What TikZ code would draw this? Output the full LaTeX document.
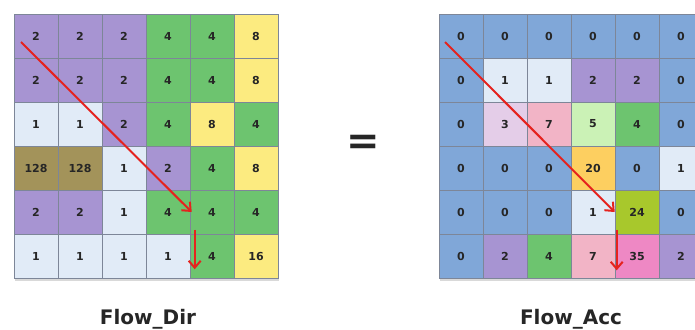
\documentclass[tikz,border=0pt]{standalone}
\usepackage{fontspec}
\setmainfont{DejaVu Sans}
\usetikzlibrary{calc,shadows,arrows.meta}

\definecolor{pu}{HTML}{A794D2}
\definecolor{gr}{HTML}{6DC46F}
\definecolor{ye}{HTML}{FCEB80}
\definecolor{wh}{HTML}{E1EBF7}
\definecolor{ol}{HTML}{A3935A}
\definecolor{bl}{HTML}{80A7D8}
\definecolor{li}{HTML}{E4CDE8}
\definecolor{pk}{HTML}{F2B4C6}
\definecolor{mi}{HTML}{CBF2B6}
\definecolor{or}{HTML}{FDCF60}
\definecolor{lm}{HTML}{A8C82C}
\definecolor{ro}{HTML}{EE88C4}
\definecolor{gridline}{HTML}{7D8698}
\definecolor{arrowred}{HTML}{E5221E}

\tikzset{
  cell/.style={draw=gridline, line width=0.6pt, minimum size=44pt, inner sep=0pt,
    font=\fontsize{11}{11}\selectfont\bfseries, text=black!85},
  flow/.style={draw=arrowred, line width=2pt, -{Straight Barb[length=7pt,width=12pt]}},
  caption/.style={font=\fontsize{20}{20}\selectfont\bfseries, text=black!85}
}

\begin{document}
\begin{tikzpicture}[x=1pt,y=-1pt]
  \useasboundingbox (0,0) rectangle (695,329);
  \clip (0,0) rectangle (695,329);

  % shadows under the two grids
  \fill[white, drop shadow={opacity=0.3, shadow xshift=1pt, shadow yshift=-3pt}] (14,14) rectangle (278,278);
  \fill[white, drop shadow={opacity=0.3, shadow xshift=1pt, shadow yshift=-3pt}] (439,14) rectangle (703,278);

  % Flow_Dir grid
  \foreach \r/\vals in {
      1/{2/pu,2/pu,2/pu,4/gr,4/gr,8/ye},
      2/{2/pu,2/pu,2/pu,4/gr,4/gr,8/ye},
      3/{1/wh,1/wh,2/pu,4/gr,8/ye,4/gr},
      4/{128/ol,128/ol,1/wh,2/pu,4/gr,8/ye},
      5/{2/pu,2/pu,1/wh,4/gr,4/gr,4/gr},
      6/{1/wh,1/wh,1/wh,1/wh,4/gr,16/ye}}
    \foreach \v/\col [count=\c] in \vals
      \node[cell, fill=\col] (d-\r-\c) at ({36+44*(\c-1)},{36+44*(\r-1)}) {\v};

  % Flow_Acc grid
  \foreach \r/\vals in {
      1/{0/bl,0/bl,0/bl,0/bl,0/bl,0/bl},
      2/{0/bl,1/wh,1/wh,2/pu,2/pu,0/bl},
      3/{0/bl,3/li,7/pk,5/mi,4/gr,0/bl},
      4/{0/bl,0/bl,0/bl,20/or,0/bl,1/wh},
      5/{0/bl,0/bl,0/bl,1/wh,24/lm,0/bl},
      6/{0/bl,2/pu,4/gr,7/pk,35/ro,2/pu}}
    \foreach \v/\col [count=\c] in \vals
      \node[cell, fill=\col] (a-\r-\c) at ({461+44*(\c-1)},{36+44*(\r-1)}) {\v};

  % flow paths
  \coordinate (dstart) at ($(d-1-1.center)+(-15,6)$);
  \coordinate (dtop) at ($(d-6-5.north west)+(5,-4)$);
  \coordinate (dbot) at ($(d-6-5.south west)+(5,-9)$);
  \coordinate (astart) at ($(a-1-1.center)+(-16,6)$);
  \coordinate (atop) at ($(a-6-5.north west)+(2,-4)$);
  \coordinate (abot) at ($(a-6-5.south west)+(2,-8)$);

  \draw[flow] (dstart) -- ($(d-5-5.west)+(2,0)$);
  \draw[flow] (dtop) -- (dbot);
  \draw[flow] (astart) -- (a-5-5.west);
  \draw[flow] (atop) -- (abot);

  \node[font=\fontsize{40}{40}\selectfont\bfseries, text=black!85] (eq) at (363,145) {=};

  \node[caption, anchor=base] (dir) at (148,324) {Flow\_Dir};
  \node[caption, anchor=base] (acc) at (571,324) {Flow\_Acc};
\end{tikzpicture}
\end{document}
